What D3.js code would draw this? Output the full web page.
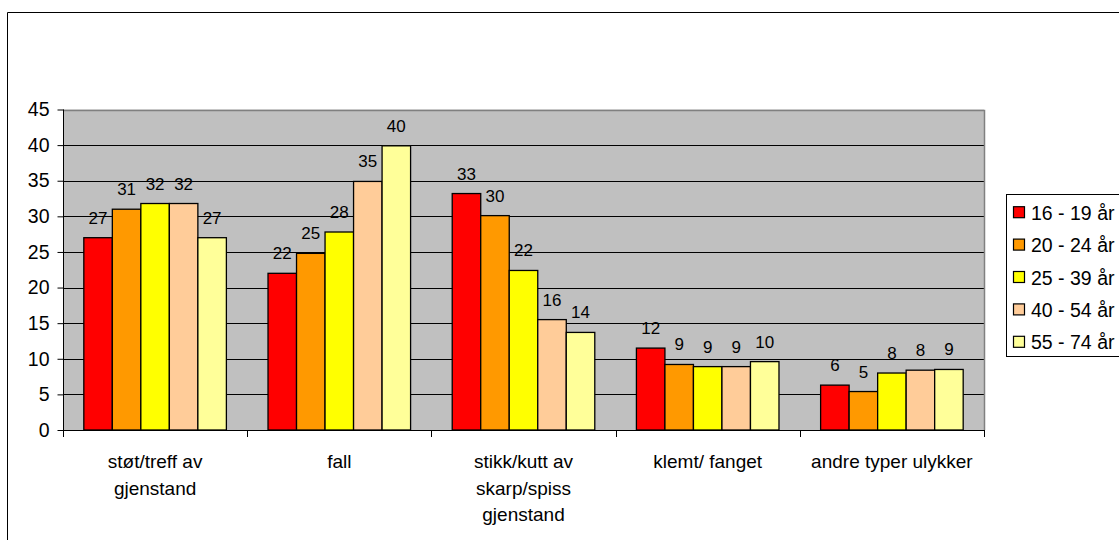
<!DOCTYPE html>
<html>
<head>
<meta charset="utf-8">
<script src="https://cdn.jsdelivr.net/npm/d3@7/dist/d3.min.js"></script>
<style>
  html, body { margin: 0; padding: 0; background: #fff; }
  svg { display: block; font-family: "Liberation Sans", Arial, sans-serif; }
</style>
</head>
<body>
<svg id="chart" width="1119" height="540"></svg>
<script>
// Injury type categories (x axis), one label line per array entry
const categories = [
  ["støt/treff av", "gjenstand"],
  ["fall"],
  ["stikk/kutt av", "skarp/spiss", "gjenstand"],
  ["klemt/ fanget"],
  ["andre typer ulykker"]
];

// Age groups
const series = ["16 - 19 år", "20 - 24 år", "25 - 39 år", "40 - 54 år", "55 - 74 år"];
const colors = ["#FF0000", "#FF9900", "#FFFF00", "#FFCC99", "#FFFF99"];

// Percent per age group, one array per injury type
const stotTreff   = [27.0, 31.0, 31.8, 31.8, 27.0];
const fall        = [22.0, 24.8, 27.8, 34.9, 39.9];
const stikkKutt   = [33.2, 30.1, 22.4, 15.5, 13.7];
const klemtFanget = [11.5, 9.2, 8.9, 8.9, 9.6];
const andreTyper  = [6.3, 5.4, 8.0, 8.4, 8.5];
const values = [stotTreff, fall, stikkKutt, klemtFanget, andreTyper];

const yTicks = [0, 5, 10, 15, 20, 25, 30, 35, 40, 45];

const svg = d3.select("#chart");
const plot = { left: 63, right: 984, top: 109.5, bottom: 430 };

// Outer chart frame (extends past the right and bottom edges)
svg.append("path")
  .attr("d", `M7.5,1200 V12.5 H2000`)
  .attr("fill", "none").attr("stroke", "#000").attr("stroke-width", 1);

const x0 = d3.scaleBand()
  .domain(d3.range(categories.length))
  .range([plot.left, plot.right])
  .paddingInner(0).paddingOuter(0);

const catW = x0.bandwidth();
const barW = catW / 6.46;
const gap = catW - barW * series.length;
const x1 = d3.scaleBand()
  .domain(d3.range(series.length))
  .range([gap / 2, catW - gap / 2])
  .padding(0);

const y = d3.scaleLinear().domain([0, 45]).range([plot.bottom, plot.top]);

// Plot background
svg.append("rect")
  .attr("x", plot.left).attr("y", plot.top)
  .attr("width", plot.right - plot.left).attr("height", plot.bottom - plot.top)
  .attr("fill", "#C0C0C0");

// Horizontal gridlines
svg.append("g")
  .selectAll("line")
  .data(yTicks.filter(t => t > 0 && t < 45))
  .join("line")
  .attr("x1", plot.left).attr("x2", plot.right)
  .attr("y1", d => Math.round(y(d)) + 0.5).attr("y2", d => Math.round(y(d)) + 0.5)
  .attr("stroke", "#000").attr("stroke-width", 1);

// Plot area border (top and right)
svg.append("path")
  .attr("d", `M${plot.left},${Math.round(plot.top) + 0.5} H${plot.right + 0.5} V${plot.bottom}`)
  .attr("fill", "none").attr("stroke", "#808080").attr("stroke-width", 1.5);

// Bars
const groups = svg.append("g")
  .selectAll("g")
  .data(values)
  .join("g")
  .attr("transform", (d, i) => `translate(${x0(i)},0)`);

groups.selectAll("rect")
  .data(d => d.map((v, j) => ({ v, j })))
  .join("rect")
  .attr("x", d => x1(d.j))
  .attr("y", d => y(d.v))
  .attr("width", x1.bandwidth())
  .attr("height", d => y(0) - y(d.v))
  .attr("fill", d => colors[d.j])
  .attr("stroke", "#000").attr("stroke-width", 1.3);

// Value labels
groups.selectAll("text")
  .data(d => d.map((v, j) => ({ v, j })))
  .join("text")
  .attr("x", d => x1(d.j) + x1.bandwidth() / 2)
  .attr("y", d => y(d.v) - 14)
  .attr("text-anchor", "middle")
  .attr("font-size", 17)
  .attr("fill", "#000")
  .text(d => d3.format(".0f")(d.v));

// Y axis
const yAxis = svg.append("g")
  .attr("transform", `translate(${plot.left + 0.5},0)`)
  .call(d3.axisLeft(y).tickValues(yTicks).tickSize(6).tickPadding(8).tickFormat(d3.format("d")));
yAxis.select(".domain").attr("d", `M0,${plot.top}V${plot.bottom}`).attr("stroke", "#000");
yAxis.selectAll(".tick line").attr("stroke", "#000");
yAxis.selectAll("text")
  .attr("font-size", 19.5)
  .attr("font-family", '"Liberation Sans", Arial, sans-serif')
  .attr("fill", "#000");

// X axis line with ticks at category boundaries
const xBoundaries = d3.range(categories.length + 1).map(i => plot.left + i * catW);
svg.append("line")
  .attr("x1", plot.left).attr("x2", plot.right + 1)
  .attr("y1", plot.bottom + 0.5).attr("y2", plot.bottom + 0.5)
  .attr("stroke", "#000");
svg.append("g")
  .selectAll("line")
  .data(xBoundaries)
  .join("line")
  .attr("x1", d => Math.round(d) + 0.5).attr("x2", d => Math.round(d) + 0.5)
  .attr("y1", plot.bottom).attr("y2", plot.bottom + 7)
  .attr("stroke", "#000");

// Category labels
svg.append("g")
  .selectAll("text")
  .data(categories)
  .join("text")
  .attr("x", (d, i) => x0(i) + catW / 2)
  .attr("y", 468)
  .attr("text-anchor", "middle")
  .attr("font-size", 19)
  .attr("fill", "#000")
  .selectAll("tspan")
  .data(d => d)
  .join("tspan")
  .attr("x", function () { return d3.select(this.parentNode).attr("x"); })
  .attr("dy", (d, k) => k === 0 ? 0 : 26.5)
  .text(d => d);

// Legend
const legend = svg.append("g");
legend.append("rect")
  .attr("x", 1006.5).attr("y", 194.5)
  .attr("width", 200).attr("height", 162)
  .attr("fill", "#fff").attr("stroke", "#000").attr("stroke-width", 1);

const items = legend.selectAll("g.item")
  .data(series)
  .join("g")
  .attr("class", "item")
  .attr("transform", (d, i) => `translate(0,${212.7 + i * 32.4})`);

items.append("rect")
  .attr("x", 1013.5).attr("y", -6)
  .attr("width", 11).attr("height", 11)
  .attr("fill", (d, i) => colors[i])
  .attr("stroke", "#000").attr("stroke-width", 1.2);

items.append("text")
  .attr("x", 1031)
  .attr("y", 0)
  .attr("dy", "0.36em")
  .attr("font-size", 19.5)
  .attr("fill", "#000")
  .text(d => d);
</script>
</body>
</html>
